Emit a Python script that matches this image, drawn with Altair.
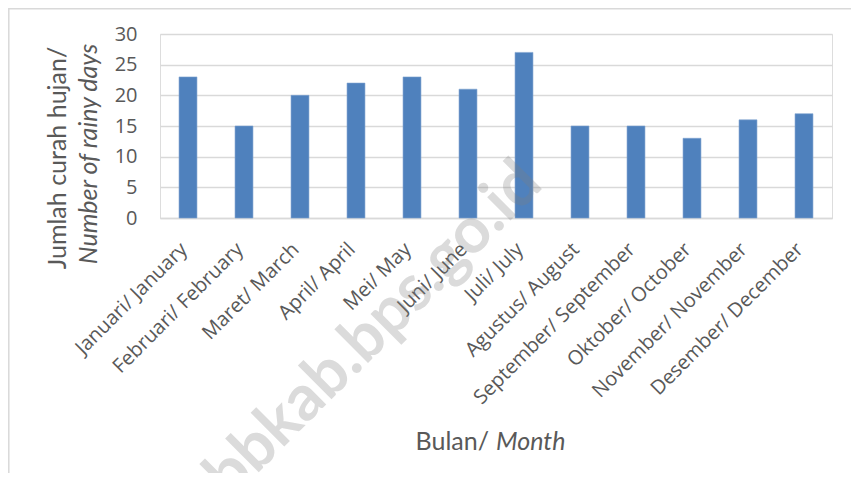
import altair as alt
import pandas as pd

months = ["Januari/ January", "Februari/ February", "Maret/ March", "April/ April",
          "Mei/ May", "Juni/ June", "Juli/ July", "Agustus/ August",
          "September/ September", "Oktober/ October", "November/ November",
          "Desember/ December"]
rainy_days = [23, 15, 20, 22, 23, 21, 27, 15, 15, 13, 16, 17]

df = pd.DataFrame({"month": months, "days": rainy_days})

W, H = 672, 184
FONT = "Lato"
LFONT = "Open Sans"
TXT = "#595959"

x_enc = alt.X("month:N", sort=months, title=None,
              scale=alt.Scale(paddingInner=0.68, paddingOuter=0.34),
              axis=alt.Axis(labelAngle=-45, labelAlign="right", labelBaseline="middle",
                            labelPadding=28, labelOffset=-4, ticks=False, labelLimit=0,
                            domainColor="#d9d9d9", domainWidth=1.3,
                            labelFont=LFONT, labelFontSize=20, labelColor=TXT))
y_enc = alt.Y("days:Q", title=None,
              scale=alt.Scale(domain=[0, 30]),
              axis=alt.Axis(values=[0, 5, 10, 15, 20, 25, 30], domain=False, ticks=False,
                            labelPadding=23, gridColor="#d9d9d9", gridWidth=1.3,
                            labelFont=LFONT, labelFontSize=20, labelColor=TXT))

bars = alt.Chart(df).mark_bar(color="#4f81bd", stroke="#7ea3d0", strokeWidth=0.6).encode(x=x_enc, y=y_enc)

one = alt.Data(values=[{}])

border = alt.Chart(one).mark_rect(fill=None, stroke="#d9d9d9", strokeWidth=1.5).encode(
    x=alt.value(-151.2), x2=alt.value(W + 40), y=alt.value(-25.2), y2=alt.value(H + 300))

ytitle1 = alt.Chart(one).mark_text(text="Jumlah curah hujan/", angle=270, align="center",
                                   baseline="middle", font=FONT, fontSize=25, color=TXT).encode(
    x=alt.value(-102), y=alt.value(124))
ytitle2 = alt.Chart(one).mark_text(text="Number of rainy days", angle=270, align="center",
                                   baseline="middle", font=FONT, fontSize=25, fontStyle="italic",
                                   color=TXT).encode(
    x=alt.value(-71), y=alt.value(120))

xtitle1 = alt.Chart(one).mark_text(text="Bulan/", align="right", baseline="alphabetic",
                                   font=FONT, fontSize=25, color=TXT).encode(
    x=alt.value(329), y=alt.value(416))
xtitle2 = alt.Chart(one).mark_text(text="Month", align="left", baseline="alphabetic",
                                   font=FONT, fontSize=25, fontStyle="italic", color=TXT).encode(
    x=alt.value(336), y=alt.value(416))

watermark = alt.Chart(one).mark_text(text="bbkab.bps.go.id", angle=315, align="center",
                                     baseline="middle", font=FONT, fontSize=64, fontWeight="bold",
                                     color="#808080", opacity=0.28).encode(
    x=alt.value(214), y=alt.value(296))

chart = alt.layer(border, bars, ytitle1, ytitle2, xtitle1, xtitle2, watermark).properties(
    width=W, height=H,
    autosize=alt.AutoSizeParams(type="none"),
    padding={"left": 152, "top": 26, "right": 19, "bottom": 255},
).configure_view(stroke=None).configure(background="white")

chart.save("out.html", embed_options={"renderer": "svg", "actions": False})
